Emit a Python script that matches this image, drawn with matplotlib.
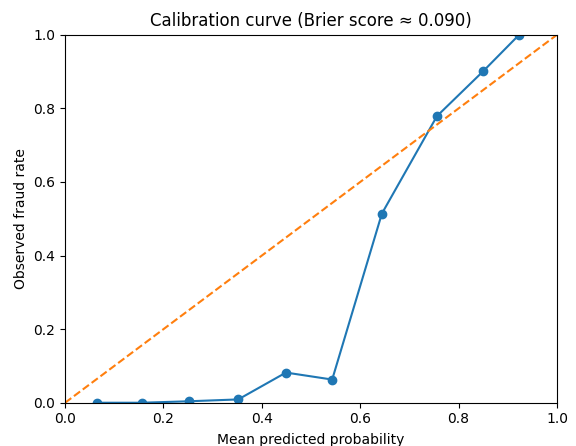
import matplotlib
matplotlib.use("Agg")
import matplotlib.pyplot as plt

mean_pred = [0.065, 0.156, 0.252, 0.352, 0.449, 0.543, 0.644, 0.756, 0.850, 0.923]
frac_pos = [0.0, 0.0, 0.004, 0.009, 0.082, 0.063, 0.514, 0.779, 0.901, 1.0]
brier = 0.090

fig, ax = plt.subplots(figsize=(5.76, 4.46), dpi=100)
fig.subplots_adjust(left=0.113, right=0.967, top=0.922, bottom=0.097)

ax.plot(mean_pred, frac_pos, marker="o", color="#1f77b4")
ax.plot([0, 1], [0, 1], linestyle="--", color="#ff7f0e")
ax.set_xlim(0, 1)
ax.set_ylim(0, 1)
ax.set_xlabel("Mean predicted probability", labelpad=5)
ax.set_ylabel("Observed fraud rate")
ax.set_title(f"Calibration curve (Brier score \u2248 {brier:.3f})")

fig.savefig("out.png", dpi=100)
